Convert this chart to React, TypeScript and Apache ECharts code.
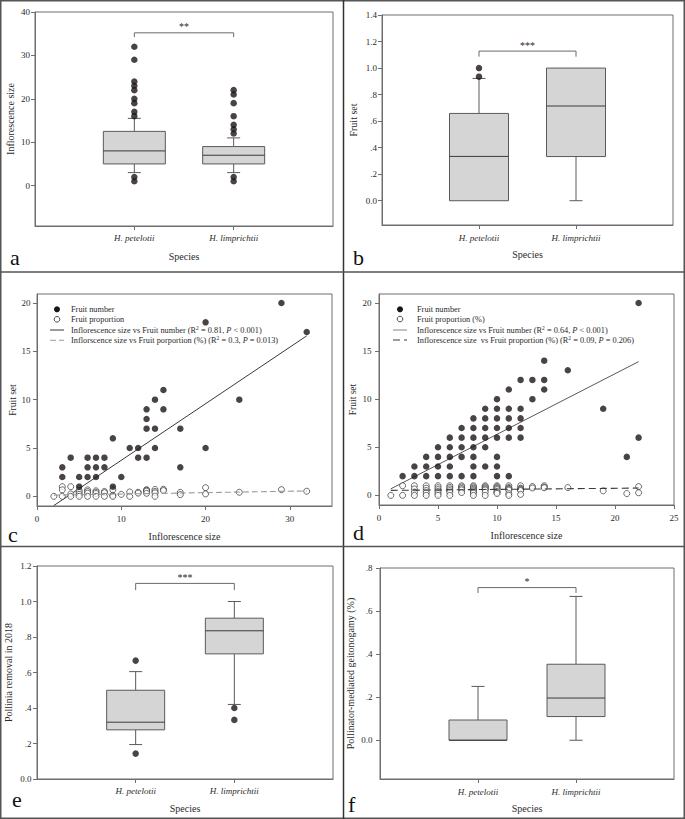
import React, { useEffect, useRef } from "react";
import * as echarts from "echarts";

const species = ["H. petelotii", "H. limprichtii"];

// Box stats per species: [lower whisker, Q1, median, Q3, upper whisker]
const sizeBox = [[3, 5, 8, 12.5, 15.5], [3, 5, 7, 9, 11]];
const sizeOutliers = [[32, 29, 24, 23, 22, 20, 19, 17, 16, 2, 1], [22, 21, 19, 16, 14, 13, 12, 2, 1]];
const sizeBracket = [35.2, 34.2];
const sizeStars = "**";

const setBox = [[0, 0, 0.334, 0.658, 0.922], [0, 0.333, 0.714, 1.0, 1.0]];
const setOutliers = [[1.0, 0.935], []];
const setBracket = [1.128, 1.086];
const setStars = "***";

const removalBox = [[0.194, 0.277, 0.32, 0.5, 0.605], [0.42, 0.705, 0.835, 0.906, 1.0]];
const removalOutliers = [[0.667, 0.143], [0.4, 0.333]];
const removalBracket = [1.102, 1.064];
const removalStars = "***";

const geitBox = [[0, 0, 0, 0.094, 0.25], [0, 0.11, 0.196, 0.353, 0.668]];
const geitOutliers: number[][] = [[], []];
const geitBracket = [0.709, 0.684];
const geitStars = "*";

// Panel c: [inflorescence size, value]
const fruitNumberC = [
  [3, 3], [3, 2], [4, 4], [5, 2], [5, 1], [6, 4], [6, 3], [6, 2], [7, 4], [7, 3], [7, 2],
  [8, 4], [8, 3], [9, 6], [9, 1], [10, 2], [11, 5], [12, 5], [12, 4], [13, 9], [13, 8], [13, 7],
  [13, 4], [14, 10], [14, 7], [14, 5], [15, 11], [15, 9], [17, 7], [17, 3], [20, 18], [20, 5],
  [24, 10], [29, 20], [32, 17],
];
const fruitPropC = [
  [2, 0], [3, 1], [3, 0.67], [3, 0], [4, 1], [4, 0.25], [4, 0], [5, 0.6], [5, 0.4], [5, 0.2], [5, 0],
  [6, 0.67], [6, 0.5], [6, 0.33], [6, 0], [7, 0.57], [7, 0.43], [7, 0.29], [7, 0], [8, 0.5], [8, 0.38],
  [8, 0], [9, 0.67], [9, 0.11], [9, 0], [10, 0.2], [11, 0.45], [11, 0], [12, 0.42], [12, 0.33],
  [13, 0.69], [13, 0.62], [13, 0.54], [13, 0.31], [14, 0.71], [14, 0.5], [14, 0.36], [14, 0],
  [15, 0.73], [15, 0.6], [17, 0.41], [17, 0.18], [20, 0.9], [20, 0.25], [24, 0.42], [29, 0.69], [32, 0.53],
];
const fitNumberC = [[2, -0.95], [32, 16.6]];
const fitPropC = [[2, 0.12], [32, 0.56]];

// Panel d
const fruitNumberD = [
  [2, 2], [3, 3], [3, 2], [4, 4], [4, 3], [4, 2], [5, 5], [5, 4], [5, 3], [5, 2],
  [6, 6], [6, 5], [6, 4], [6, 3], [6, 2], [7, 7], [7, 6], [7, 5], [7, 4], [7, 2],
  [8, 8], [8, 7], [8, 6], [8, 5], [8, 4], [8, 3], [8, 2], [9, 9], [9, 8], [9, 7], [9, 6], [9, 5], [9, 3],
  [10, 10], [10, 9], [10, 8], [10, 7], [10, 6], [10, 4], [10, 3], [10, 2],
  [11, 11], [11, 9], [11, 8], [11, 7], [11, 6], [11, 2], [12, 12], [12, 9], [12, 8], [12, 7], [12, 6],
  [13, 12], [13, 10], [14, 14], [14, 12], [14, 11], [16, 13], [19, 9], [21, 4], [22, 20], [22, 6],
];
const fruitPropD = [
  [1, 0], [2, 1], [2, 0], [3, 1], [3, 0.67], [3, 0.33], [3, 0], [4, 1], [4, 0.75], [4, 0.5], [4, 0.25], [4, 0],
  [5, 1], [5, 0.8], [5, 0.6], [5, 0.4], [5, 0.2], [5, 0], [6, 1], [6, 0.83], [6, 0.67], [6, 0.5], [6, 0.33], [6, 0],
  [7, 1], [7, 0.86], [7, 0.71], [7, 0.57], [7, 0.29], [8, 1], [8, 0.88], [8, 0.75], [8, 0.63], [8, 0.5],
  [8, 0.38], [8, 0.25], [8, 0], [9, 1], [9, 0.89], [9, 0.78], [9, 0.67], [9, 0.56], [9, 0.33], [9, 0],
  [10, 1], [10, 0.9], [10, 0.8], [10, 0.7], [10, 0.6], [10, 0.4], [10, 0.3], [10, 0.2],
  [11, 1], [11, 0.82], [11, 0.73], [11, 0.64], [11, 0.55], [11, 0.18], [11, 0],
  [12, 1], [12, 0.75], [12, 0.67], [12, 0.58], [12, 0.5], [12, 0.1], [13, 0.92], [13, 0.77],
  [14, 1], [14, 0.86], [14, 0.79], [16, 0.81], [19, 0.47], [21, 0.19], [22, 0.91], [22, 0.27],
];
const fitNumberD = [[1, 0.68], [22, 13.9]];
const fitPropD = [[1, 0.52], [22, 0.76]];

const legendC = [
  "Fruit number",
  "Fruit proportion",
  "Inflorescence size vs Fruit number (R{sup|2} = 0.81, {it|P} < 0.001)",
  "Inflorscence size vs Fruit porportion (%) (R{sup|2} = 0.3, {it|P} = 0.013)",
];
const legendD = [
  "Fruit number",
  "Fruit proportion (%)",
  "Inflorescence size vs Fruit number (R{sup|2} = 0.64, {it|P} < 0.001)",
  "Inflorescence size  vs Fruit proportion (%) (R{sup|2} = 0.09, {it|P} = 0.206)",
];

const SERIF = '"Liberation Serif", "Times New Roman", serif';
const AX = "#6e6e6e";
const TXT = "#2a2a2a";
const DOT = "#1c1414";
const BOXFILL = "#d5d5d5";

function fmtDec(v: number) {
  if (Math.abs(v) < 1e-9) return "0.0";
  if (v >= 1) return v.toFixed(1);
  return v.toFixed(1).replace(/^0/, "");
}

function boxRender(halfW: number, capHalf: number) {
  return (params: any, api: any) => {
    const x = api.value(0);
    const lo = api.value(1), q1 = api.value(2), med = api.value(3), q3 = api.value(4), hi = api.value(5);
    const pLo = api.coord([x, lo]);
    const pQ1 = api.coord([x, q1]);
    const pMed = api.coord([x, med]);
    const pQ3 = api.coord([x, q3]);
    const pHi = api.coord([x, hi]);
    const cx = pMed[0];
    const ls = { stroke: "#5a5a5a", lineWidth: 1 };
    const children: any[] = [];
    if (hi > q3) {
      children.push({ type: "line", shape: { x1: cx, y1: pQ3[1], x2: cx, y2: pHi[1] }, style: ls });
      children.push({ type: "line", shape: { x1: cx - capHalf, y1: pHi[1], x2: cx + capHalf, y2: pHi[1] }, style: ls });
    }
    if (lo < q1) {
      children.push({ type: "line", shape: { x1: cx, y1: pQ1[1], x2: cx, y2: pLo[1] }, style: ls });
      children.push({ type: "line", shape: { x1: cx - capHalf, y1: pLo[1], x2: cx + capHalf, y2: pLo[1] }, style: ls });
    }
    children.push({
      type: "rect",
      shape: { x: cx - halfW, y: pQ3[1], width: halfW * 2, height: pQ1[1] - pQ3[1] },
      style: { fill: BOXFILL, stroke: "#5a5a5a", lineWidth: 1 },
    });
    children.push({ type: "line", shape: { x1: cx - halfW, y1: pMed[1], x2: cx + halfW, y2: pMed[1] }, style: { stroke: "#3a3a3a", lineWidth: 1 } });
    return { type: "group", children };
  };
}

function bracketRender(stars: string) {
  return (params: any, api: any) => {
    const top = api.value(0), drop = api.value(1);
    const a0 = api.coord([1, drop]);
    const a1 = api.coord([1, top]);
    const b1 = api.coord([2, top]);
    const b0 = api.coord([2, drop]);
    return {
      type: "group",
      children: [
        { type: "polyline", shape: { points: [a0, a1, b1, b0] }, style: { stroke: "#6a6a6a", lineWidth: 1, fill: "none" } },
        {
          type: "text",
          style: { text: stars, x: (a1[0] + b1[0]) / 2, y: a1[1] - 1, align: "center", verticalAlign: "bottom", fontSize: 10, fontFamily: SERIF, fill: TXT },
        },
      ],
    };
  };
}

function speciesAxis(gi: number, margin: number, nameGap: number) {
  return {
    gridIndex: gi, type: "value", min: 0, max: 3,
    axisLine: { show: true, onZero: false, lineStyle: { color: AX, width: 1 } },
    axisTick: { show: true, length: 4, customValues: [1, 2], lineStyle: { color: AX } },
    axisLabel: {
      customValues: [1, 2],
      formatter: (v: number) => species[Math.round(v) - 1] ?? "",
      margin, fontFamily: SERIF, fontStyle: "italic", fontSize: 9, color: TXT,
    },
    splitLine: { show: false },
    name: "Species", nameLocation: "middle", nameGap,
    nameTextStyle: { fontFamily: SERIF, fontSize: 10, color: TXT },
  };
}

function numAxis(gi: number, min: number, max: number, ticks: number[], fmt: any, margin: number, name: string, nameGap: number, nameSize: number, isX = false) {
  return {
    gridIndex: gi, type: "value", min, max,
    axisLine: { show: true, onZero: false, lineStyle: { color: AX, width: 1 } },
    axisTick: { show: true, length: 4, customValues: ticks, lineStyle: { color: AX } },
    axisLabel: { customValues: ticks, formatter: fmt, margin, fontFamily: SERIF, fontSize: 9, color: TXT },
    splitLine: { show: false },
    name, nameLocation: "middle", nameGap,
    nameTextStyle: { fontFamily: SERIF, fontSize: nameSize, color: TXT },
  };
}

function boxSeries(gi: number, box: number[][], outliers: number[][], bracket: number[], stars: string, halfW: number) {
  return [
    {
      type: "custom", xAxisIndex: gi, yAxisIndex: gi, silent: true, z: 2,
      renderItem: boxRender(halfW, 6.5),
      data: box.map((s, i) => [i + 1, ...s]),
      encode: { x: 0, y: [1, 2, 3, 4, 5] },
    },
    {
      type: "scatter", xAxisIndex: gi, yAxisIndex: gi, silent: true, z: 3,
      symbolSize: 6.5, itemStyle: { color: DOT },
      data: outliers.flatMap((vals, i) => vals.map((v) => [i + 1, v])),
    },
    {
      type: "custom", xAxisIndex: gi, yAxisIndex: gi, silent: true, z: 3,
      renderItem: bracketRender(stars),
      data: [bracket],
      encode: { y: [0, 1] },
    },
  ];
}

function scatterSeries(gi: number, nums: number[][], props: number[][], fitN: number[][], fitP: number[][], dashColor: string, dashType: any, solidColor: string) {
  return [
    {
      type: "line", xAxisIndex: gi, yAxisIndex: gi, data: fitN, symbol: "none", silent: true, z: 2,
      lineStyle: { color: solidColor, width: 0.9 },
    },
    {
      type: "scatter", xAxisIndex: gi, yAxisIndex: gi, data: props, symbolSize: 6, silent: true, z: 3,
      itemStyle: { color: "#ffffff", borderColor: "#1a1a1a", borderWidth: 0.8 },
    },
    {
      type: "line", xAxisIndex: gi, yAxisIndex: gi, data: fitP, symbol: "none", silent: true, z: 4,
      lineStyle: { color: dashColor, width: 1.1, type: dashType },
    },
    {
      type: "scatter", xAxisIndex: gi, yAxisIndex: gi, data: nums, symbolSize: 6.5, silent: true, z: 5,
      itemStyle: { color: DOT },
    },
  ];
}

function legendGraphic(iconX: number, textX: number, rows: number[], labels: string[], dashColor: string, dash: number[], solidColor: string) {
  const rich = {
    sup: { fontSize: 5.5, fontFamily: SERIF, fill: TXT, verticalAlign: "top", padding: [0, 0, 4, 0] },
    it: { fontSize: 8.3, fontFamily: SERIF, fontStyle: "italic", fill: TXT },
  };
  const children: any[] = [
    { type: "circle", shape: { cx: iconX, cy: rows[0], r: 3 }, style: { fill: DOT } },
    { type: "circle", shape: { cx: iconX, cy: rows[1], r: 2.8 }, style: { fill: "#fff", stroke: "#1a1a1a", lineWidth: 0.8 } },
    { type: "line", shape: { x1: iconX - 7, y1: rows[2], x2: iconX + 7, y2: rows[2] }, style: { stroke: solidColor, lineWidth: 0.9 } },
    { type: "line", shape: { x1: iconX - 7, y1: rows[3], x2: iconX + 7, y2: rows[3] }, style: { stroke: dashColor, lineWidth: 1.1, lineDash: dash } },
  ];
  labels.forEach((t, i) => {
    children.push({
      type: "text",
      style: { text: t, x: textX, y: rows[i], verticalAlign: "middle", align: "left", fontSize: 8.3, fontFamily: SERIF, fill: TXT, rich },
    });
  });
  return { type: "group", silent: true, children };
}

function letter(t: string, x: number, baseline: number) {
  return {
    type: "text", silent: true,
    style: { text: t, x, y: baseline + 5, verticalAlign: "bottom", align: "left", fontSize: 22, fontFamily: SERIF, fill: "#111" },
  };
}

export default function App() {
  const ref = useRef<HTMLDivElement>(null);
  useEffect(() => {
    if (!ref.current) return;
    const chart = echarts.init(ref.current, undefined, { renderer: "svg" });
    const gridStyle = { show: true, borderColor: AX, borderWidth: 1, backgroundColor: "transparent", containLabel: false };
    const option: any = {
      animation: false,
      backgroundColor: "#ffffff",
      grid: [
        { ...gridStyle, left: 35, top: 12, width: 298, height: 214 },
        { ...gridStyle, left: 382, top: 15, width: 291, height: 210 },
        { ...gridStyle, left: 37, top: 294, width: 295, height: 212 },
        { ...gridStyle, left: 379, top: 294, width: 295, height: 211 },
        { ...gridStyle, left: 37, top: 566, width: 296, height: 213 },
        { ...gridStyle, left: 380, top: 568, width: 294, height: 211 },
      ],
      xAxis: [
        speciesAxis(0, 7, 25),
        speciesAxis(1, 8, 24),
        numAxis(2, 0, 35, [0, 10, 20, 30], (v: number) => String(v), 8, "Inflorescence size", 25, 10, true),
        numAxis(3, 0, 25, [0, 5, 10, 15, 20, 25], (v: number) => String(v), 8, "Inflorescence size", 25.5, 10, true),
        speciesAxis(4, 7, 24),
        speciesAxis(5, 8, 24.5),
      ],
      yAxis: [
        numAxis(0, -9.3, 40, [0, 10, 20, 30, 40], (v: number) => String(v), 5, "Inflorescence size", 20, 10),
        numAxis(1, -0.183, 1.4, [0, 0.2, 0.4, 0.6, 0.8, 1.0, 1.2, 1.4], fmtDec, 5, "Fruit set", 24, 10),
        numAxis(2, -1, 20.93, [0, 5, 10, 15, 20], (v: number) => String(v), 6.5, "Fruit set", 19, 9.5),
        numAxis(3, -1, 20.93, [0, 5, 10, 15, 20], (v: number) => String(v), 7.5, "Fruit set", 21, 9.5),
        numAxis(4, 0, 1.2, [0, 0.2, 0.4, 0.6, 0.8, 1.0, 1.2], fmtDec, 5.5, "Pollinia removal in 2018", 24, 10),
        numAxis(5, -0.18, 0.8, [0, 0.2, 0.4, 0.6, 0.8], fmtDec, 7.5, "Pollinator-mediated geitonogamy (%)", 24.5, 10),
      ],
      series: [
        ...boxSeries(0, sizeBox, sizeOutliers, sizeBracket, sizeStars, 31),
        ...boxSeries(1, setBox, setOutliers, setBracket, setStars, 29.5),
        ...scatterSeries(2, fruitNumberC, fruitPropC, fitNumberC, fitPropC, "#9a9a9a", [6, 3], "#222"),
        ...scatterSeries(3, fruitNumberD, fruitPropD, fitNumberD, fitPropD, "#3a3a3a", [7, 4], "#444"),
        ...boxSeries(4, removalBox, removalOutliers, removalBracket, removalStars, 29),
        ...boxSeries(5, geitBox, geitOutliers, geitBracket, geitStars, 29),
      ],
      graphic: [
        { type: "rect", silent: true, shape: { x: 0.75, y: 0.75, width: 683.5, height: 817.5 }, style: { fill: "none", stroke: "#555", lineWidth: 1.5 } },
        { type: "line", silent: true, shape: { x1: 343.5, y1: 0, x2: 343.5, y2: 819 }, style: { stroke: "#333", lineWidth: 1.5 } },
        { type: "line", silent: true, shape: { x1: 0, y1: 272, x2: 685, y2: 272 }, style: { stroke: "#555", lineWidth: 1.5 } },
        { type: "line", silent: true, shape: { x1: 0, y1: 546.5, x2: 685, y2: 546.5 }, style: { stroke: "#555", lineWidth: 1.5 } },
        legendGraphic(57, 71, [309.3, 319.3, 330, 340.3], legendC, "#9a9a9a", [6, 3], "#222"),
        legendGraphic(400, 417, [309.3, 319, 330, 340], legendD, "#3a3a3a", [7, 4], "#777"),
        letter("a", 10, 263),
        letter("b", 353, 263),
        letter("c", 8, 540),
        letter("d", 353, 538),
        letter("e", 12, 805),
        letter("f", 348, 810),
      ],
    };
    chart.setOption(option);
    return () => chart.dispose();
  }, []);
  return <div ref={ref} style={{ position: "absolute", left: 0, top: 0, width: 685, height: 819 }} />;
}
